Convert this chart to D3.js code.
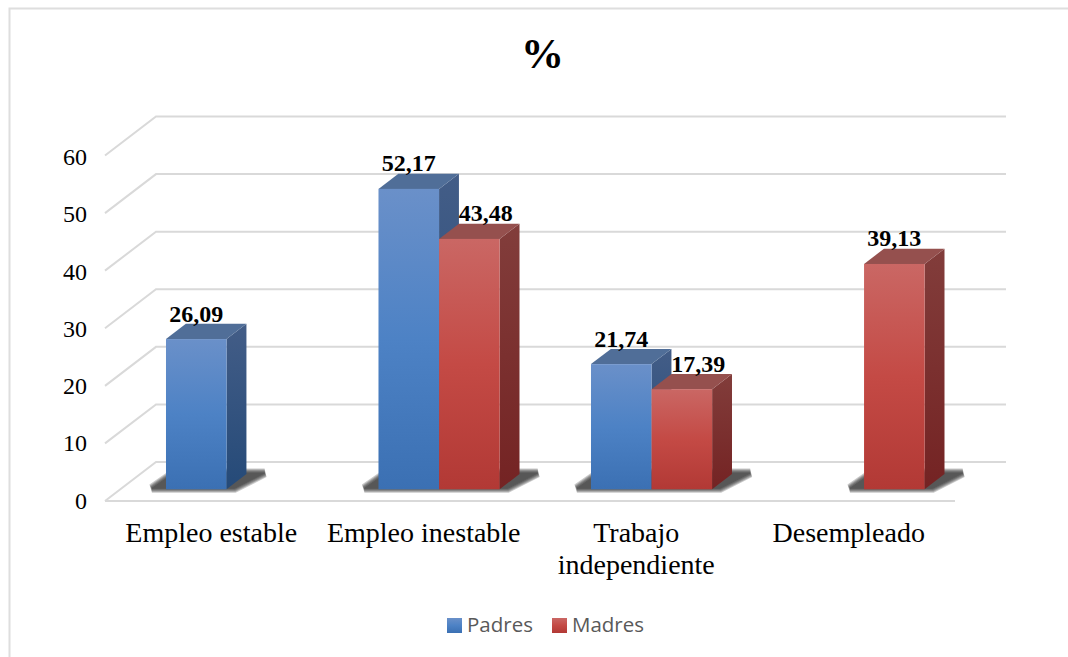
<!DOCTYPE html>
<html>
<head>
<meta charset="utf-8">
<script src="https://cdn.jsdelivr.net/npm/d3@7"></script>
<style>
    html, body { margin: 0; padding: 0; background: #fff; }
    svg { display: block; }
</style>
</head>
<body>
<div id="chart"></div>
<script>
const categories = [["Empleo estable"], ["Empleo inestable"], ["Trabajo", "independiente"], ["Desempleado"]];
const seriesNames = ["Padres", "Madres"];
const padres = [26.09, 52.17, 21.74, null];
const madres = [null, 43.48, 17.39, 39.13];
const yTicks = [0, 10, 20, 30, 40, 50, 60];

const width = 1068, height = 657;
const serif = "'Liberation Serif', serif";

// floor of the 3D box: depth 0 is the front edge, depth 1 is the back wall
const floorFrontY = 501, floorBackY = 462, wallDepthX = 51;
const depthX = d => d * wallDepthX;
const depthY = d => floorFrontY - d * (floorFrontY - floorBackY);
const barFront = 0.30, barBack = 0.69;

const svg = d3.select("#chart").append("svg")
    .attr("width", width)
    .attr("height", height);

const x = d3.scaleBand()
    .domain(d3.range(categories.length))
    .range([105, 955]);
const xSeries = d3.scaleBand()
    .domain(seriesNames)
    .range([0, x.bandwidth() * 0.57]);
const h = d3.scaleLinear().domain([0, 60]).range([0, 345.5]);
const yLabel = d3.scaleLinear().domain([0, 60]).range([508.5, 165]);

const defs = svg.append("defs");

function addGradient(id, stops) {
    const g = defs.append("linearGradient")
        .attr("id", id)
        .attr("x1", 0).attr("y1", 0).attr("x2", 0).attr("y2", 1);
    stops.forEach(s => g.append("stop").attr("offset", s[0]).attr("stop-color", s[1]));
}
addGradient("frontPadres", [[0, "#6a90c9"], [0.5, "#4d82c5"], [1, "#3b70b3"]]);
addGradient("frontMadres", [[0, "#ca6764"], [0.5, "#c44a45"], [1, "#b23935"]]);
addGradient("sidePadres", [[0, "#435d87"], [1, "#254a78"]]);
addGradient("sideMadres", [[0, "#823d3b"], [1, "#742323"]]);

// outer frame, only left and top edges are visible
svg.append("path")
    .attr("d", "M9.5,657V8.5H1068")
    .attr("fill", "none")
    .attr("stroke", "#dedede")
    .attr("stroke-width", 2);

// back wall grid lines and their floor diagonals
const grid = svg.append("g")
    .attr("fill", "none")
    .attr("stroke", "#d9d9d9")
    .attr("stroke-width", 2);
grid.selectAll("path")
    .data(yTicks)
    .join("path")
    .attr("d", t => {
        const back = floorBackY - h(t), front = floorFrontY - h(t);
        return `M${x.range()[0]},${front}L${x.range()[0] + wallDepthX},${back}H${x.range()[1] + wallDepthX}`;
    });
grid.append("path")
    .attr("d", `M${x.range()[0]},${floorFrontY}H${x.range()[1]}`);

// y axis labels
svg.append("g")
    .attr("font-family", serif)
    .attr("font-size", 24)
    .attr("fill", "#000")
    .attr("text-anchor", "end")
    .selectAll("text")
    .data(yTicks)
    .join("text")
    .attr("x", 87)
    .attr("y", t => yLabel(t))
    .text(t => t);

// one record per bar, left to right so the nearer faces overlap properly
const bars = [];
categories.forEach((c, i) => {
    if (padres[i] != null) bars.push({cat: i, name: "Padres", value: padres[i]});
    if (madres[i] != null) bars.push({cat: i, name: "Madres", value: madres[i]});
});
const bx0 = d => x(d.cat) + x.bandwidth() / 2 + depthX(barFront)
    - xSeries.range()[1] / 2 + xSeries(d.name);
const bw = xSeries.bandwidth();

// floor shadows: blur filters do not show in the photo, so stack wide translucent strokes
const shadowSpread = [9, 7, 5, 3, 1];
const shadows = svg.append("g")
    .attr("fill", "#222")
    .attr("stroke", "#222")
    .attr("stroke-linejoin", "miter")
    .attr("stroke-miterlimit", 3);
categories.forEach((c, i) => {
    const here = bars.filter(b => b.cat === i);
    const left = d3.min(here, bx0), right = d3.max(here, bx0) + bw;
    const y0 = depthY(barFront), y1 = depthY(barBack);
    shadowSpread.forEach(w => {
        shadows.append("path")
            .attr("opacity", 0.24)
            .attr("stroke-width", w)
            .attr("d", `M${left - 14},${y0 - 1}L${left + 8},${y1 - 1}L${right + 38},${y1 - 1}L${right + 8},${y0 - 1}Z`);
    });
});

const barG = svg.append("g")
    .selectAll("g")
    .data(bars)
    .join("g");

barG.append("path") // side face
    .attr("fill", d => `url(#side${d.name})`)
    .attr("d", d => {
        const xr = bx0(d) + bw, y0 = depthY(barFront), t = h(d.value);
        const dx = depthX(barBack) - depthX(barFront), dy = depthY(barFront) - depthY(barBack);
        return `M${xr},${y0}V${y0 - t}l${dx},${-dy}V${y0 - dy}Z`;
    });
barG.append("path") // top face
    .attr("fill", d => d.name === "Padres" ? "#506e98" : "#95504e")
    .attr("d", d => {
        const xl = bx0(d), yt = depthY(barFront) - h(d.value);
        const dx = depthX(barBack) - depthX(barFront), dy = depthY(barFront) - depthY(barBack);
        return `M${xl},${yt}l${dx},${-dy}h${bw}l${-dx},${dy}Z`;
    });
barG.append("rect") // front face
    .attr("fill", d => `url(#front${d.name})`)
    .attr("x", d => bx0(d))
    .attr("y", d => depthY(barFront) - h(d.value))
    .attr("width", bw)
    .attr("height", d => h(d.value));

// value labels, comma as decimal mark. Madres labels next to a Padres bar sit to the right
const fmt = v => v.toFixed(2).replace(".", ",");
const labelShift = d => d.name === "Madres" && d.cat !== 3 ? 16.5 : 0;
svg.append("g")
    .attr("font-family", serif)
    .attr("font-size", 24)
    .attr("font-weight", "bold")
    .attr("fill", "#000")
    .attr("text-anchor", "middle")
    .selectAll("text")
    .data(bars)
    .join("text")
    .attr("x", d => bx0(d) + bw / 2 + labelShift(d))
    .attr("y", d => depthY(barFront) - h(d.value) - 17.5)
    .text(d => fmt(d.value));

// category labels
const catLabels = svg.append("g")
    .attr("font-family", serif)
    .attr("font-size", 28)
    .attr("fill", "#000")
    .attr("text-anchor", "middle");
categories.forEach((lines, i) => {
    lines.forEach((line, j) => {
        catLabels.append("text")
            .attr("x", x(i) + x.bandwidth() / 2)
            .attr("y", 542 + j * 32)
            .text(line);
    });
});

// title
svg.append("text")
    .attr("x", 542.5)
    .attr("y", 68)
    .attr("text-anchor", "middle")
    .attr("font-family", serif)
    .attr("font-size", 43)
    .attr("font-weight", "bold")
    .attr("fill", "#000")
    .text("%");

// legend
const legendX = [447, 552];
const legend = svg.append("g")
    .selectAll("g")
    .data(seriesNames)
    .join("g")
    .attr("transform", (d, i) => `translate(${legendX[i]},618)`);
legend.append("rect")
    .attr("width", 15)
    .attr("height", 15)
    .attr("fill", d => `url(#front${d})`);
legend.append("text")
    .attr("x", 20)
    .attr("y", 14)
    .attr("font-family", "'Open Sans', sans-serif")
    .attr("font-size", 20.5)
    .attr("fill", "#595959")
    .text(d => d);
</script>
</body>
</html>
